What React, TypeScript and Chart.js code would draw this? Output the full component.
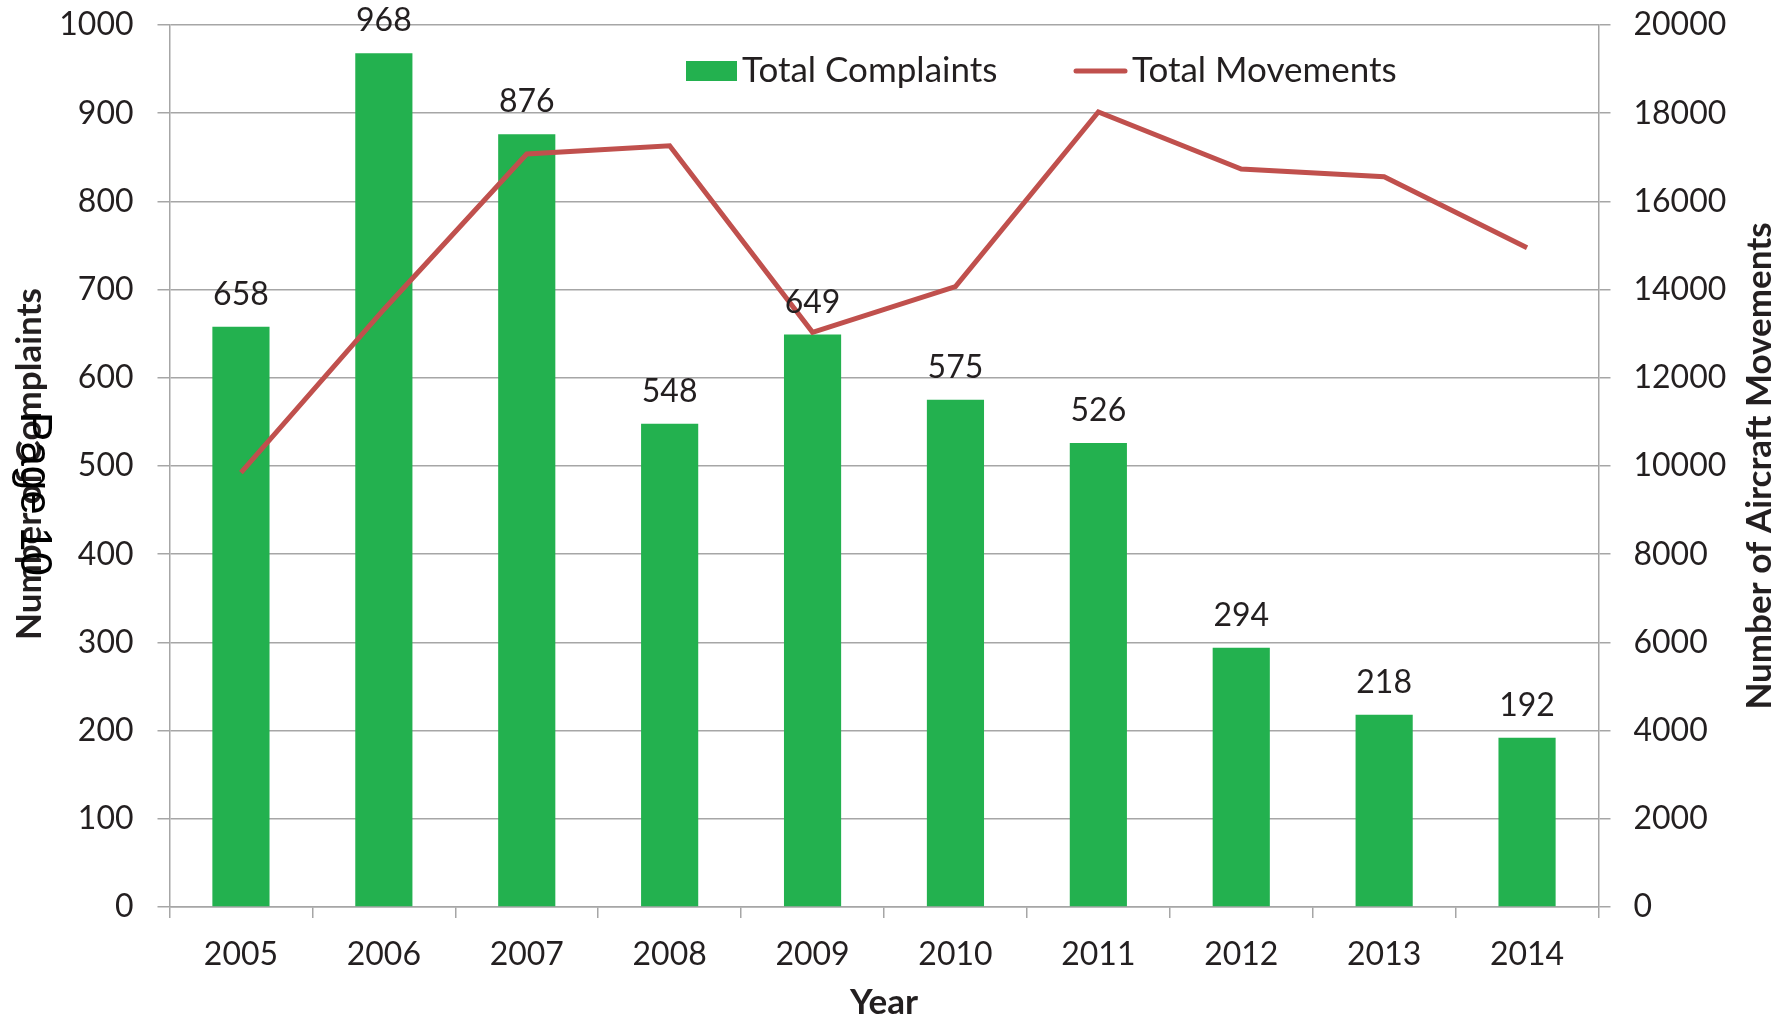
import React, { useEffect, useRef } from "react";
import { Chart, registerables } from "chart.js";

Chart.register(...registerables);

// ---- data ----
const years = ["2005", "2006", "2007", "2008", "2009", "2010", "2011", "2012", "2013", "2014"];
const complaints = [658, 968, 876, 548, 649, 575, 526, 294, 218, 192];
const movements = [9850, 13550, 17075, 17260, 13030, 14070, 18030, 16735, 16560, 14950];
const complaintsLabel = "Total Complaints";
const movementsLabel = "Total Movements";
const leftTitle = "Number of Complaints";
const rightTitle = "Number of Aircraft Movements";
const xTitle = "Year";
const pageStamp = "Page 10";

// ---- styles ----
const FONT = "Lato, 'Open Sans', sans-serif";
const TEXT = "#231f20";
const BAR = "#23b14f";
const LINE = "#c0504d";
const GRID = "#a6a6a6";

const W = 1792;
const H = 1020;
const AREA_LEFT = 169.5;
const AREA_RIGHT = 1598.5;
const AREA_TOP = 25;
const AREA_BOTTOM = 907;

const overlayPlugin = {
  id: "overlay",
  afterDatasetsDraw(chart: any) {
    const ctx = chart.ctx;
    const meta = chart.getDatasetMeta(0);
    ctx.save();
    ctx.fillStyle = TEXT;
    ctx.font = `32px ${FONT}`;
    ctx.textAlign = "center";
    ctx.textBaseline = "alphabetic";
    meta.data.forEach((bar: any, i: number) => {
      ctx.fillText(String(complaints[i]), bar.x, bar.y - 22);
    });
    ctx.restore();
  },
  afterDraw(chart: any) {
    const ctx = chart.ctx;
    const ca = chart.chartArea;
    ctx.save();
    // legend
    ctx.fillStyle = BAR;
    ctx.fillRect(686, 61, 51, 20);
    ctx.fillStyle = TEXT;
    ctx.font = `35px ${FONT}`;
    ctx.textAlign = "left";
    ctx.textBaseline = "alphabetic";
    ctx.fillText(chart.data.datasets[0].label, 742, 82);
    ctx.strokeStyle = LINE;
    ctx.lineWidth = 5;
    ctx.lineCap = "round";
    ctx.beginPath();
    ctx.moveTo(1076, 71);
    ctx.lineTo(1125, 71);
    ctx.stroke();
    ctx.fillText(chart.data.datasets[1].label, 1132, 82);

    // axis titles
    ctx.font = `bold 35px ${FONT}`;
    ctx.textAlign = "center";
    ctx.textBaseline = "middle";
    ctx.fillText(xTitle, (ca.left + ca.right) / 2, 1003);

    ctx.save();
    ctx.translate(30, 464);
    ctx.rotate(-Math.PI / 2);
    ctx.fillText(leftTitle, 0, 0);
    ctx.restore();

    ctx.save();
    ctx.translate(1760, 466);
    ctx.rotate(-Math.PI / 2);
    ctx.fillText(rightTitle, 0, 0);
    ctx.restore();

    // page stamp overlapping the left title
    ctx.save();
    ctx.translate(33, 494);
    ctx.rotate(Math.PI / 2);
    ctx.fillStyle = "#000";
    ctx.font = `44px 'Liberation Sans', Arial, sans-serif`;
    ctx.fillText(pageStamp, 0, 0);
    ctx.restore();

    ctx.restore();
  },
};

const plain = (v: any) => String(v);
const noPadY = (width: number) => (scale: any) => {
  scale.width = width;
  scale.paddingTop = 0;
  scale.paddingBottom = 0;
};

export default function App() {
  const ref = useRef<HTMLCanvasElement | null>(null);

  useEffect(() => {
    if (!ref.current) return;
    const chart = new Chart(ref.current, {
      type: "bar",
      data: {
        labels: years,
        datasets: [
          {
            type: "bar",
            label: complaintsLabel,
            data: complaints,
            backgroundColor: BAR,
            borderWidth: 0,
            barPercentage: 0.4,
            categoryPercentage: 1.0,
            yAxisID: "y",
            order: 2,
          },
          {
            type: "line",
            label: movementsLabel,
            data: movements,
            borderColor: LINE,
            backgroundColor: LINE,
            borderWidth: 5,
            pointRadius: 0,
            tension: 0,
            borderJoinStyle: "miter",
            yAxisID: "y2",
            order: 1,
          },
        ] as any,
      },
      options: {
        responsive: false,
        animation: false,
        devicePixelRatio: 1,
        layout: { padding: { top: AREA_TOP, left: 0, right: 0, bottom: 0 } },
        plugins: {
          legend: { display: false },
          tooltip: { enabled: false },
        },
        scales: {
          x: {
            offset: true,
            grid: {
              display: true,
              drawOnChartArea: false,
              drawTicks: true,
              tickLength: 11,
              color: GRID,
              lineWidth: 1.5,
              offset: true,
            },
            border: { display: true, color: GRID, width: 1.5 },
            ticks: {
              color: TEXT,
              font: { family: FONT, size: 32 },
              padding: 17,
              maxRotation: 0,
            },
            afterFit(scale: any) {
              scale.height = H - AREA_BOTTOM;
              scale.paddingLeft = 0;
              scale.paddingRight = 0;
            },
          },
          y: {
            position: "left",
            min: 0,
            max: 1000,
            ticks: {
              stepSize: 100,
              color: TEXT,
              font: { family: FONT, size: 32 },
              padding: 24,
              callback: plain,
            },
            grid: {
              color: GRID,
              lineWidth: 1.5,
              tickLength: 12,
            },
            border: { display: true, color: GRID, width: 1.5 },
            afterFit: noPadY(AREA_LEFT),
          },
          y2: {
            position: "right",
            min: 0,
            max: 20000,
            ticks: {
              stepSize: 2000,
              color: TEXT,
              font: { family: FONT, size: 32 },
              padding: 23,
              callback: plain,
            },
            grid: {
              drawOnChartArea: false,
              color: GRID,
              lineWidth: 1.5,
              tickLength: 12,
            },
            border: { display: true, color: GRID, width: 1.5 },
            afterFit: noPadY(W - AREA_RIGHT),
          },
        },
      } as any,
      plugins: [overlayPlugin],
    });
    return () => chart.destroy();
  }, []);

  return (
    <div style={{ position: "absolute", left: 0, top: 0, width: W, height: H, background: "#fff" }}>
      <canvas ref={ref} width={W} height={H} style={{ width: W, height: H, display: "block" }} />
    </div>
  );
}
